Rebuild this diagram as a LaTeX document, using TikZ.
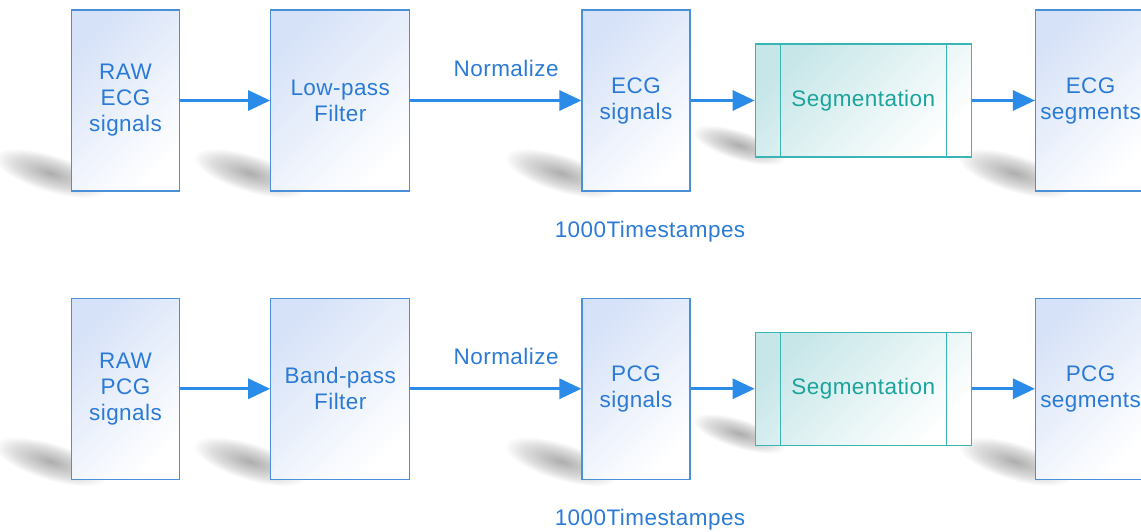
\documentclass[tikz,border=0pt]{standalone}
\usepackage{fontspec}
\setmainfont[LetterSpace=2]{Liberation Sans}
\usetikzlibrary{positioning, arrows.meta, backgrounds}

\definecolor{boxblue}{HTML}{D6E2F8}
\definecolor{boxline}{HTML}{4A90D9}
\definecolor{textblue}{HTML}{2B7BD6}
\definecolor{arrowblue}{HTML}{2A8BE8}
\definecolor{segfill}{HTML}{C6E6E8}
\definecolor{segline}{HTML}{3AB5B5}
\definecolor{segtext}{HTML}{1BA39C}

\newcommand{\blockfont}{\fontsize{16}{18.5}\selectfont}

\tikzset{node distance=2.25cm, % gap between the first two blocks
block/.style={ % tall stage boxes
draw=boxline, line width=0.9pt,
left color=boxblue, right color=white, shading angle=45,
minimum width=2.7cm, minimum height=4.525cm,
align=center, text=textblue, font=\blockfont},
wide/.style={minimum width=3.475cm},
process/.style={ % segmentation step with side bars
draw=segline, line width=0.9pt,
left color=segfill, right color=white, shading angle=45,
minimum width=5.4cm, minimum height=2.825cm,
text=segtext, font=\blockfont,
path picture={\draw[segline, line width=0.9pt]
([xshift=0.625cm]path picture bounding box.north west) -- ([xshift=0.625cm]path picture bounding box.south west)
([xshift=-0.625cm]path picture bounding box.north east) -- ([xshift=-0.625cm]path picture bounding box.south east);}},
note/.style={text=textblue, font=\blockfont},
castshadow/.style={black, opacity=0.016, rotate=-17}, % one layer of a soft shadow
every edge/.style={ % flow arrows
draw=arrowblue, line width=2.1pt,
-{Triangle[length=0.55cm, width=0.5cm]}}}

\begin{document}
\begin{tikzpicture}
    \useasboundingbox (0,0) rectangle (28.525,-13.275);

    % ECG branch
    \node[block] (raw1) at (3.1375,-2.5125) {RAW\\ECG\\signals};
    \node[block, wide, right=of raw1] (filter1) {Low-pass\\Filter};
    \node[block, right=4.275cm of filter1] (sig1) {ECG\\signals};
    \node[process, right=1.6cm of sig1] (seg1) {Segmentation};
    \node[block, right=1.575cm of seg1] (segs1) {ECG\\segments};
    \node[note, below=0.62cm of sig1, xshift=0.35cm] (len1) {1000Timestampes};

    \draw (raw1) edge (filter1);
    \draw (filter1) edge node[note, pos=0.56, above=0.45cm] {Normalize} (sig1);
    \draw (sig1) edge (seg1);
    \draw (seg1) edge (segs1);

    % PCG branch
    \node[block, below=2.65cm of raw1] (raw2) {RAW\\PCG\\signals};
    \node[block, wide, right=of raw2] (filter2) {Band-pass\\Filter};
    \node[block, right=4.275cm of filter2] (sig2) {PCG\\signals};
    \node[process, right=1.6cm of sig2] (seg2) {Segmentation};
    \node[block, right=1.575cm of seg2] (segs2) {PCG\\segments};
    \node[note, below=0.62cm of sig2, xshift=0.35cm] (len2) {1000Timestampes};

    \draw (raw2) edge (filter2);
    \draw (filter2) edge node[note, pos=0.56, above=0.45cm] {Normalize} (sig2);
    \draw (sig2) edge (seg2);
    \draw (seg2) edge (segs2);

    % soft shadows behind the boxes, built from stacked faint ellipses
    \begin{scope}[on background layer]
        \foreach \b in {raw1,filter1,sig1,segs1,raw2,filter2,sig2,segs2} {
            \coordinate (sh) at ([shift={(-0.5,0.45)}]\b.south west);
            \foreach \k in {1,...,24}
                \fill[castshadow] (sh) ellipse [x radius={0.06cm*\k}, y radius={0.019cm*\k}];
        }
        \foreach \b in {seg1,seg2} {
            \coordinate (sh) at ([shift={(-0.375,0.3)}]\b.south west);
            \foreach \k in {1,...,24}
                \fill[castshadow] (sh) ellipse [x radius={0.05cm*\k}, y radius={0.015cm*\k}];
        }
    \end{scope}

\end{tikzpicture}
\end{document}
